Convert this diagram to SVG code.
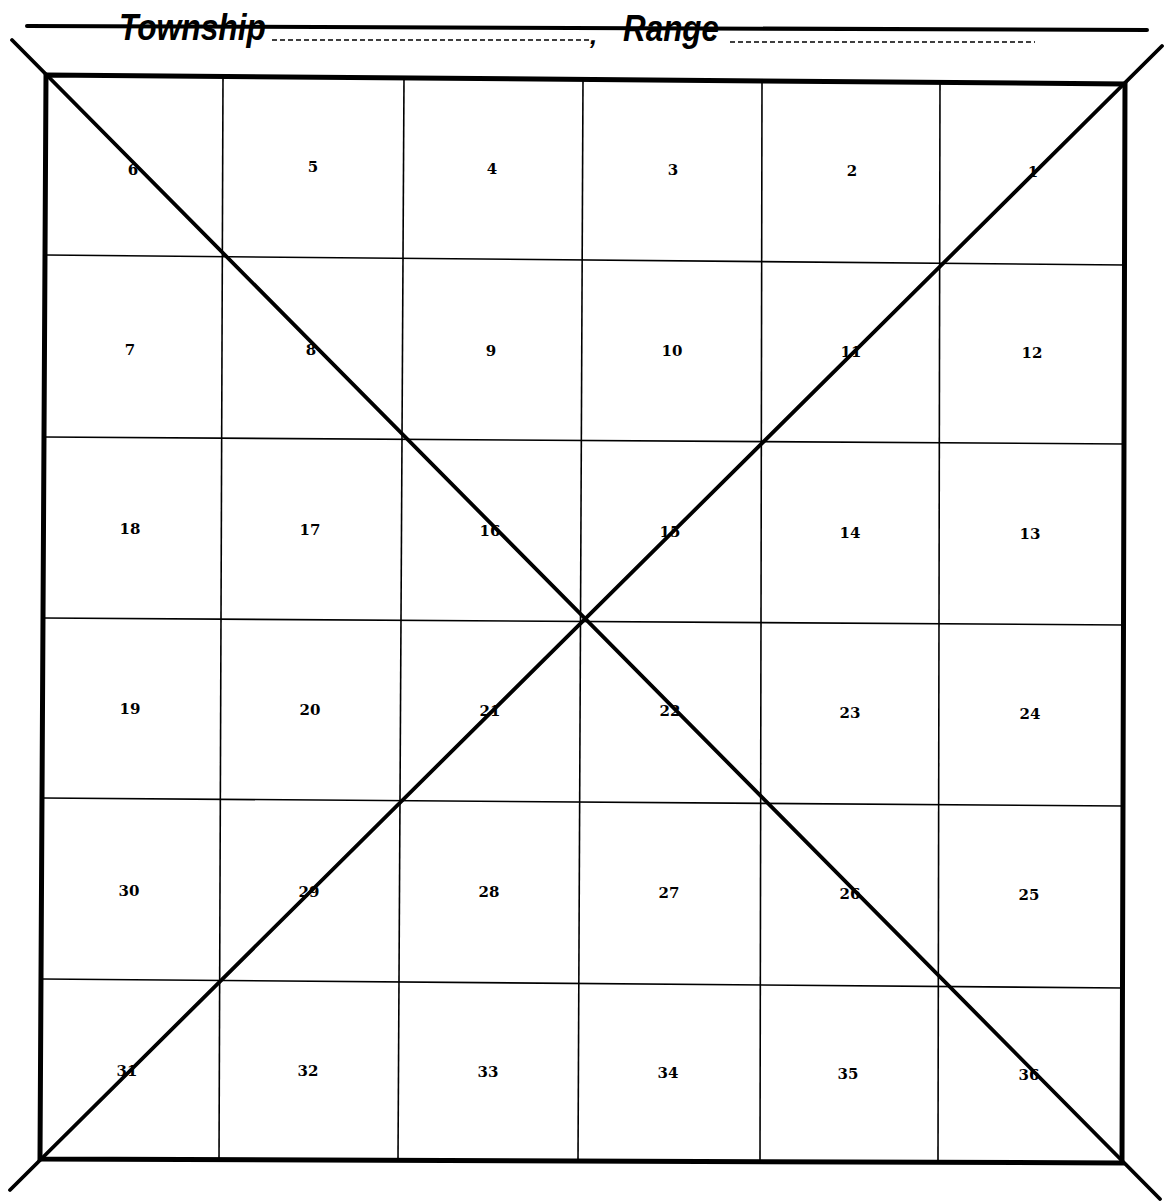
<svg xmlns="http://www.w3.org/2000/svg" width="1164" height="1201" viewBox="0 0 1164 1201">
<style>
.title{font-family:"Liberation Sans",Arial,sans-serif;font-weight:bold;font-style:italic;font-size:37px;fill:#000}
.num{font-family:"DejaVu Serif","Liberation Serif",serif;font-weight:bold;font-size:15px;fill:#000;text-anchor:middle}
.frame{stroke:#000;stroke-width:5;fill:none;stroke-linecap:square}
.grid{stroke:#000;stroke-width:1.6;fill:none}
.diag{stroke:#000;stroke-width:3.8;fill:none;stroke-linecap:round}
.dash{stroke:#000;stroke-width:1.3;stroke-dasharray:5 3;fill:none}
</style>
<rect width="1164" height="1201" fill="#fff"/>
<g id="header">
<line x1="27" y1="26" x2="1147" y2="30" stroke="#000" stroke-width="4" stroke-linecap="round"/>
<text class="title" x="119" y="40" textLength="147" lengthAdjust="spacingAndGlyphs">Township</text>
<line class="dash" x1="272" y1="40" x2="590" y2="40"/>
<text class="title" x="590" y="44" style="font-size:26px">,</text>
<text class="title" x="623" y="41" textLength="96" lengthAdjust="spacingAndGlyphs">Range</text>
<line class="dash" x1="730" y1="42" x2="1035" y2="42"/>
</g>
<g id="grid">
<line class="grid" x1="223" y1="77" x2="219" y2="1160"/>
<line class="grid" x1="404" y1="78" x2="398" y2="1160"/>
<line class="grid" x1="583" y1="80" x2="578" y2="1161"/>
<line class="grid" x1="762" y1="81" x2="760" y2="1161"/>
<line class="grid" x1="940" y1="82" x2="938" y2="1162"/>
<line class="grid" x1="46" y1="255" x2="1125" y2="265"/>
<line class="grid" x1="45" y1="437" x2="1124" y2="444"/>
<line class="grid" x1="44" y1="618" x2="1124" y2="625"/>
<line class="grid" x1="43" y1="798" x2="1123" y2="806"/>
<line class="grid" x1="42" y1="979" x2="1123" y2="988"/>
</g>
<g id="frame">
<polygon class="frame" points="46,75 1125,84 1122,1163 40,1159"/>
</g>
<g id="connectors">
<line class="diag" x1="12" y1="40" x2="1160" y2="1199"/>
<line class="diag" x1="1162" y1="46" x2="10" y2="1190"/>
</g>
<g id="sections">
<text class="num" x="133" y="175">6</text>
<text class="num" x="313" y="172">5</text>
<text class="num" x="492" y="174">4</text>
<text class="num" x="673" y="175">3</text>
<text class="num" x="852" y="176">2</text>
<text class="num" x="1033" y="177">1</text>
<text class="num" x="130" y="355">7</text>
<text class="num" x="311" y="355">8</text>
<text class="num" x="491" y="356">9</text>
<text class="num" x="672" y="356">10</text>
<text class="num" x="851" y="357">11</text>
<text class="num" x="1032" y="358">12</text>
<text class="num" x="130" y="534">18</text>
<text class="num" x="310" y="535">17</text>
<text class="num" x="490" y="536">16</text>
<text class="num" x="670" y="537">15</text>
<text class="num" x="850" y="538">14</text>
<text class="num" x="1030" y="539">13</text>
<text class="num" x="130" y="714">19</text>
<text class="num" x="310" y="715">20</text>
<text class="num" x="490" y="716">21</text>
<text class="num" x="670" y="716">22</text>
<text class="num" x="850" y="718">23</text>
<text class="num" x="1030" y="719">24</text>
<text class="num" x="129" y="896">30</text>
<text class="num" x="309" y="897">29</text>
<text class="num" x="489" y="897">28</text>
<text class="num" x="669" y="898">27</text>
<text class="num" x="850" y="899">26</text>
<text class="num" x="1029" y="900">25</text>
<text class="num" x="127" y="1076">31</text>
<text class="num" x="308" y="1076">32</text>
<text class="num" x="488" y="1077">33</text>
<text class="num" x="668" y="1078">34</text>
<text class="num" x="848" y="1079">35</text>
<text class="num" x="1029" y="1080">36</text>
</g>
</svg>
